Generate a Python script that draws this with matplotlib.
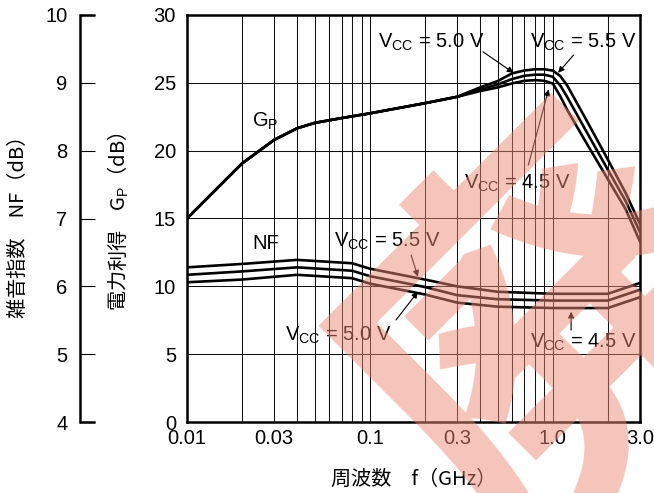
import matplotlib
matplotlib.use("Agg")
import matplotlib.pyplot as plt

plt.rcParams['font.family'] = ['Liberation Sans', 'Noto Sans CJK JP', 'DejaVu Sans']
plt.rcParams['mathtext.fontset'] = 'custom'
plt.rcParams['mathtext.rm'] = 'Liberation Sans'
plt.rcParams['mathtext.it'] = 'Liberation Sans'

# ---------------- data ----------------
gp_freq = [0.01, 0.02, 0.03, 0.04, 0.05, 0.07, 0.1, 0.2, 0.3, 0.4, 0.5, 0.6, 0.7,
           0.8, 0.9, 1.0, 1.1, 1.2, 1.5, 2.0, 2.5, 3.0]
gp_55 = [15.0, 19.06, 20.8, 21.65, 22.05, 22.4, 22.75, 23.5, 23.97, 24.66, 25.13, 25.7,
         25.91, 26.0, 26.0, 25.9, 25.5, 24.8, 22.45, 19.35, 16.9, 14.6]
gp_50 = [15.0, 19.06, 20.8, 21.65, 22.05, 22.4, 22.75, 23.5, 23.97, 24.51, 24.88, 25.28,
         25.52, 25.6, 25.6, 25.45, 24.8, 23.95, 21.6, 18.6, 16.3, 14.0]
gp_45 = [15.0, 19.06, 20.8, 21.65, 22.05, 22.4, 22.75, 23.5, 23.97, 24.39, 24.66, 24.96,
         25.15, 25.2, 25.15, 24.95, 24.0, 23.0, 20.75, 17.9, 15.7, 13.3]

nf_freq = [0.01, 0.02, 0.04, 0.08, 0.1, 0.2, 0.3, 0.5, 1.0, 2.0, 3.0]
nf_55 = [6.28, 6.33, 6.39, 6.34, 6.26, 6.10, 6.00, 5.92, 5.89, 5.89, 6.05]
nf_50 = [6.17, 6.22, 6.28, 6.23, 6.15, 5.99, 5.87, 5.81, 5.79, 5.79, 5.95]
nf_45 = [6.06, 6.10, 6.17, 6.12, 6.04, 5.88, 5.76, 5.70, 5.68, 5.68, 5.84]

x_major = [0.01, 0.03, 0.1, 0.3, 1.0, 3.0]
x_major_labels = ['0.01', '0.03', '0.1', '0.3', '1.0', '3.0']
x_minor = [0.02, 0.04, 0.05, 0.06, 0.07, 0.08, 0.09, 0.2, 0.4, 0.5, 0.6, 0.7, 0.8, 0.9, 2.0]
gp_ticks = [0, 5, 10, 15, 20, 25, 30]
nf_ticks = [4, 5, 6, 7, 8, 9, 10]

# ---------------- figure ----------------
W, H = 654, 493
fig = plt.figure(figsize=(W / 100, H / 100), dpi=100)
L, R, T, B = 187, 640, 15, 422
ax = fig.add_axes([L / W, 1 - B / H, (R - L) / W, (B - T) / H])
ax.set_xscale('log')
ax.set_xlim(0.01, 3.0)
ax.set_ylim(0, 30)
ax.set_xticks(x_major)
ax.set_xticklabels(x_major_labels)
ax.set_xticks(x_minor, minor=True)
ax.set_xticklabels([], minor=True)
ax.set_yticks(gp_ticks)
ax.tick_params(axis='both', which='both', length=0, labelsize=14.5)
ax.tick_params(axis='x', pad=5)
ax.tick_params(axis='y', pad=8)
ax.grid(True, which='both', axis='x', color='#111111', lw=0.75)
ax.grid(True, which='major', axis='y', color='#111111', lw=0.75)
ax.set_axisbelow(True)
for s in ax.spines.values():
    s.set_linewidth(1.8)

lw = 1.9
ax.plot(gp_freq, gp_55, color='black', lw=lw, solid_joinstyle='round')
ax.plot(gp_freq, gp_50, color='black', lw=lw, solid_joinstyle='round')
ax.plot(gp_freq, gp_45, color='black', lw=lw, solid_joinstyle='round')

axn = ax.twinx()
axn.set_ylim(4, 10)
axn.axis('off')
axn.plot(nf_freq, nf_55, color='black', lw=lw, solid_joinstyle='round')
axn.plot(nf_freq, nf_50, color='black', lw=lw, solid_joinstyle='round')
axn.plot(nf_freq, nf_45, color='black', lw=lw, solid_joinstyle='round')

# NF scale axis
axs = fig.add_axes([80 / W, 1 - B / H, 15 / W, (B - T) / H])
axs.patch.set_visible(False)
for k in ['top', 'right', 'bottom']:
    axs.spines[k].set_visible(False)
axs.spines['left'].set_linewidth(1.8)
axs.set_ylim(4, 10)
axs.set_xlim(0, 1)
axs.set_xticks([])
axs.set_yticks(nf_ticks)
axs.tick_params(axis='y', direction='in', length=10.8, width=0.8, pad=9, labelsize=14.5)
for yv in (4, 10):
    axs.plot([0, 1], [yv, yv], color='black', lw=1.8, clip_on=False, solid_capstyle='butt')

# axis labels
lab_font = ['Noto Sans CJK JP', 'DejaVu Sans']
fig.text(18 / W, 1 - 222 / H, '雑音指数　NF（dB）', rotation=90, ha='center', va='center',
         fontsize=14.5, family=lab_font)
fig.text(118 / W, 1 - 222 / H, '電力利得　G$_\\mathrm{P}$（dB）', rotation=90, ha='center',
         va='center', fontsize=14.5, family=lab_font)
ax.set_xlabel('周波数　f（GHz）', fontsize=14.5, family=lab_font, labelpad=15)

# annotations
fs = 14.5


def vcc(v):
    return 'V$_\\mathrm{CC}$ = ' + v + ' V'


ap = dict(arrowstyle='-|>', lw=0.8, color='black', mutation_scale=9, shrinkA=0, shrinkB=0)

ax.text(0.0228, 21.76, 'G$_\\mathrm{P}$', fontsize=fs, ha='left', va='baseline')
ax.text(0.111, 27.62, vcc('5.0'), fontsize=fs, ha='left', va='baseline')
ax.annotate('', xy=(0.61, 25.74), xytext=(0.415, 27.29), arrowprops=ap)
ax.text(0.748, 27.62, vcc('5.5'), fontsize=fs, ha='left', va='baseline')
ax.annotate('', xy=(1.07, 25.74), xytext=(1.30, 27.05), arrowprops=ap)
ax.text(0.329, 17.22, vcc('4.5'), fontsize=fs, ha='left', va='baseline')
ax.annotate('', xy=(0.95, 24.52), xytext=(0.735, 18.94), arrowprops=ap)

ax.text(0.0228, 12.73, 'NF', fontsize=fs, ha='left', va='baseline')
ax.text(0.0635, 12.92, vcc('5.5'), fontsize=fs, ha='left', va='baseline')
ax.annotate('', xy=(0.183, 10.71), xytext=(0.168, 12.31), arrowprops=ap)
ax.text(0.0345, 5.99, vcc('5.0'), fontsize=fs, ha='left', va='baseline')
ax.annotate('', xy=(0.183, 9.6), xytext=(0.139, 7.52), arrowprops=ap)
ax.text(0.748, 5.48, vcc('4.5'), fontsize=fs, ha='left', va='baseline')
ax.annotate('', xy=(1.26, 8.13), xytext=(1.26, 6.78), arrowprops=ap)

# watermark
fig.text(560 / W, 1 - 345 / H, '廃', fontsize=280, rotation=45, ha='center', va='center',
         color='#eb8976', alpha=0.5, family=lab_font, fontweight='bold', zorder=10)

fig.savefig('out.png', dpi=100)
